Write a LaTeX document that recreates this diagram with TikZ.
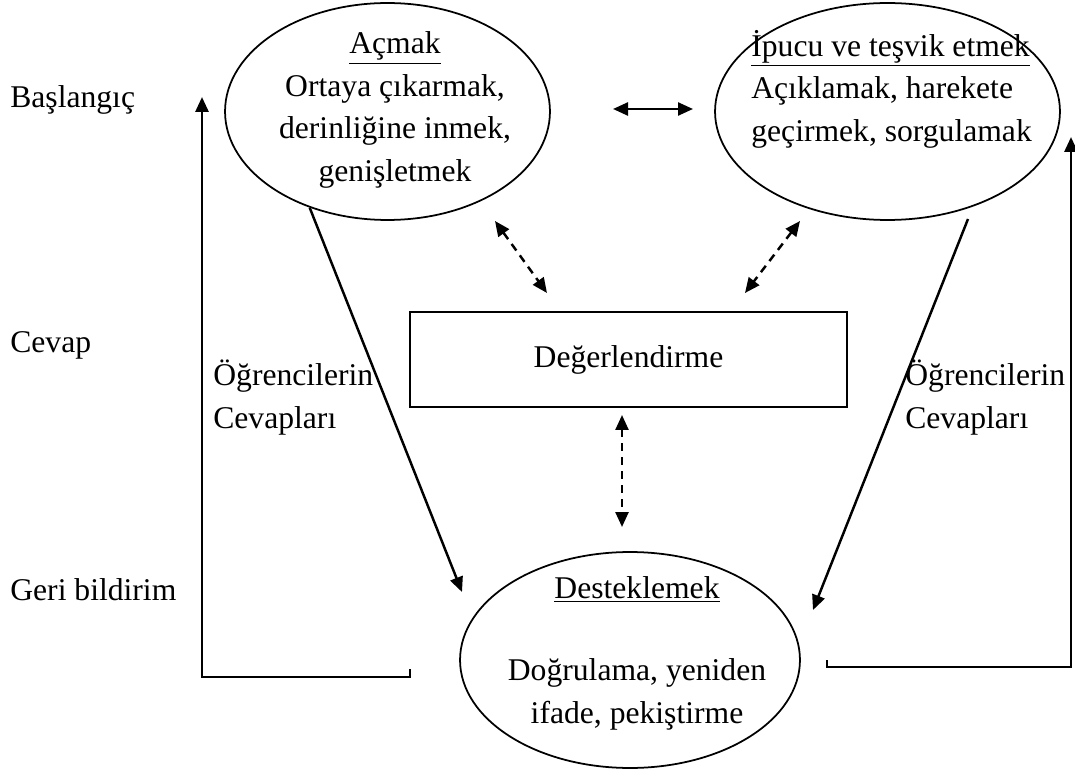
\documentclass[tikz,border=0pt]{standalone}
\usepackage{fontspec}
\setmainfont{Liberation Serif}
\usetikzlibrary{shapes.geometric,arrows.meta}
\tikzstyle{oval}=[ellipse,draw,line width=1pt,inner sep=0pt]
\tikzstyle{box}=[rectangle,draw,line width=1pt,inner sep=0pt,minimum width=8.74cm,minimum height=1.9cm]
\tikzstyle{txt}=[inner sep=0pt,align=center]
\tikzstyle{side}=[inner sep=0pt,anchor=base west]
\tikzstyle{link}=[line width=1.4pt,-{Triangle[length=0.3cm,width=0.26cm]}]
\tikzstyle{both}=[line width=1.4pt,{Triangle[length=0.3cm,width=0.26cm]}-{Triangle[length=0.3cm,width=0.26cm]}]
\tikzstyle{dlink}=[both,dash pattern=on 0.16cm off 0.12cm]
\tikzstyle{back}=[line width=1.6pt,-{Triangle[length=0.3cm,width=0.26cm]}]

\begin{document}
\begin{tikzpicture}[x=0.02cm,y=-0.02cm,font=\fontsize{18pt}{24.2pt}\selectfont]
          \useasboundingbox (0,0) rectangle (1075,773);
          % the three steps
          \node[oval,minimum width=6.5cm,minimum height=4.34cm] (acmak) at (387.5,111.5) {};
          \node[txt] (acmakT) at (395,110) {\underline{Açmak}\\Ortaya çıkarmak,\\derinliğine inmek,\\genişletmek};
          \node[oval,minimum width=6.9cm,minimum height=4.34cm] (ipucu) at (887.5,111.5) {};
          \node[txt,align=left,anchor=west] (ipucuT) at (751,89) {\underline{İpucu ve teşvik etmek}\\Açıklamak, harekete\\geçirmek, sorgulamak};
          \node[oval,minimum width=6.8cm,minimum height=4.32cm] (destek) at (630,660) {};
          \node[txt] (destekT) at (637,653) {\underline{Desteklemek}\\[0.8cm]Doğrulama, yeniden\\ifade, pekiştirme};
          \node[box] (deger) at (628.5,359.5) {Değerlendirme};
          % left labels
          \node[side] (bas) at (10,108) {Başlangıç};
          \node[side] (cevap) at (10,353) {Cevap};
          \node[side] (geri) at (10,600) {Geri bildirim};
          \node[txt,align=left,anchor=north west] (ogrL) at (213,360) {Öğrencilerin\\Cevapları};
          \node[txt,align=left,anchor=north west] (ogrR) at (905,360) {Öğrencilerin\\Cevapları};
          % free ends
          \coordinate (h1) at (613,109);
          \coordinate (h2) at (693,109);
          \coordinate (d1) at (495,221);
          \coordinate (d2) at (547,293);
          \coordinate (d3) at (800,221);
          \coordinate (d4) at (745,293);
          \coordinate (d5) at (622,415);
          \coordinate (d6) at (622,527);
          \coordinate (s1) at (462,592);
          \coordinate (s2) at (968,219);
          \coordinate (s3) at (813,610);
          \coordinate (fl) at (410,669);
          \coordinate (flup) at (202,97);
          \coordinate (fr) at (827,660);
          \coordinate (frup) at (1071,137);
          \draw[both] (h1) -- (h2);
          \draw[dlink] (d1) -- (d2);
          \draw[dlink] (d3) -- (d4);
          \draw[dlink] (d5) -- (d6);
          \draw[link] (acmak.231) -- (s1);
          \draw[link] (s2) -- (s3);
          \draw[back] (fl) -- (410,677) -| (flup);
          \draw[back] (fr) -- (827,667) -| (frup);
        \end{tikzpicture}
\end{document}
